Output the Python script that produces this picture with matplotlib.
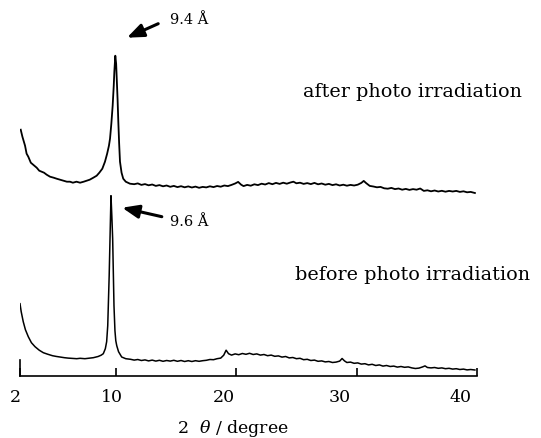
import numpy as np
import matplotlib
matplotlib.use('Agg')
import matplotlib.pyplot as plt
import matplotlib.transforms as mtransforms

plt.rcParams['font.family'] = 'DejaVu Serif'
plt.rcParams['mathtext.fontset'] = 'dejavuserif'

# XRD traces (2theta in degrees, intensity in arbitrary units, after-trace stacked above)
before_tt = [2.0, 2.1, 2.27, 2.45, 2.69, 2.95, 3.25, 3.6, 3.94, 4.3, 4.7, 5.0, 5.33, 5.7, 6.0, 6.4, 6.72,
             7.0, 7.4, 7.8, 8.1, 8.5, 8.75, 8.93, 9.1, 9.21, 9.3, 9.35, 9.42, 9.49, 9.53, 9.57, 9.64, 9.71,
             9.77, 9.82, 9.9, 9.97, 10.05, 10.2, 10.46, 10.8,
             11.2, 11.5, 11.8, 12.1, 12.4, 12.7, 13.0, 13.3, 13.6, 13.9, 14.2, 14.5, 14.8, 15.1, 15.4, 15.7,
             16.0, 16.3, 16.6, 16.9, 17.2, 17.5, 17.8, 18.1, 18.4, 18.7, 18.95, 19.15, 19.35, 19.6, 19.9,
             20.2, 20.5, 20.8, 21.1, 21.4, 21.7, 22.0, 22.3, 22.6, 22.9, 23.2, 23.5, 23.8, 24.1, 24.4, 24.7,
             25.0, 25.3, 25.6, 25.9, 26.2, 26.5, 26.8, 27.1, 27.4, 27.7, 28.0, 28.3, 28.6, 28.8, 29.0, 29.2,
             29.5, 29.8, 30.1, 30.4, 30.7, 31.0, 31.3, 31.6, 31.9, 32.2, 32.5, 32.8, 33.1, 33.4, 33.7, 34.0,
             34.3, 34.6, 34.9, 35.2, 35.5, 35.7, 35.9, 36.2, 36.5, 36.8, 37.1, 37.4, 37.7, 38.0, 38.3, 38.6,
             38.9, 39.2, 39.5, 39.85]
before_I = [72, 64, 54, 46, 39, 33, 29, 25.5, 23, 21.5, 20, 19.3, 18.7, 18.0, 17.6, 17.3, 17.0,
            17.4, 17.0, 17.6, 18, 19.2, 20.5, 22, 27, 34, 50, 70, 100, 137, 160, 180, 160, 137,
            100, 70, 45, 35, 30, 24, 18.7, 17,
            16.4, 15.6, 16.2, 15.2, 15.8, 14.8, 15.6, 14.6, 15.4, 14.4, 15.2, 14.6, 15.4, 14.4, 15.2, 14.2,
            15.0, 14.2, 15.0, 14.4, 15.0, 15.4, 16.2, 16.0, 17.0, 17.6, 20.5, 25.5, 22, 20.6, 21.8,
            21.0, 22.2, 21.4, 22.4, 21.2, 21.8, 20.6, 21.2, 20.0, 20.6, 19.4, 19.8, 18.6, 19.2, 17.8, 18.2,
            17.0, 17.4, 16.0, 16.4, 15.2, 15.6, 14.4, 14.8, 13.8, 14.2, 13.2, 13.6, 14.6, 17.2, 14.8, 13.2,
            13.6, 12.4, 12.8, 11.6, 12.0, 10.8, 11.4, 10.2, 10.8, 9.6, 10.2, 9.2, 9.6, 8.6, 9.2, 8.4,
            8.8, 7.8, 7.2, 7.6, 8.8, 9.8, 8.2, 7.8, 8.2, 7.4, 7.8, 7.0, 7.4, 6.6, 7.0, 6.2,
            6.6, 5.8, 6.2, 5.7]

after_tt = [2.06, 2.2, 2.42, 2.55, 2.69, 2.9, 3.1, 3.39, 3.6, 3.8, 4.0, 4.22, 4.5, 4.8, 5.05, 5.33, 5.6,
            5.9, 6.16, 6.4, 6.7, 7.0, 7.3, 7.55, 7.8, 8.1, 8.38, 8.6, 8.85, 9.07, 9.25, 9.4, 9.49, 9.6,
            9.71, 9.8, 9.85, 9.93, 10.0, 10.05, 10.12, 10.18, 10.25, 10.32, 10.45, 10.59, 10.8, 11.15,
            11.5, 11.8, 12.1, 12.4, 12.7, 13.0, 13.3, 13.6, 13.9, 14.2, 14.5, 14.8, 15.1, 15.4, 15.7, 16.0,
            16.3, 16.6, 16.9, 17.2, 17.5, 17.8, 18.1, 18.4, 18.7, 19.0, 19.3, 19.6, 19.9, 20.15, 20.4,
            20.6, 20.9, 21.2, 21.5, 21.8, 22.1, 22.4, 22.7, 23.0, 23.3, 23.6, 23.9, 24.2, 24.5, 24.75,
            25.0, 25.3, 25.6, 25.9, 26.2, 26.5, 26.8, 27.1, 27.4, 27.7, 28.0, 28.3, 28.6, 28.9, 29.2,
            29.5, 29.8, 30.1, 30.4, 30.6, 30.8, 31.1, 31.4, 31.7, 32.0, 32.3, 32.6, 32.9, 33.2, 33.5,
            33.8, 34.1, 34.4, 34.7, 35.0, 35.3, 35.6, 35.9, 36.2, 36.5, 36.8, 37.1, 37.4, 37.7, 38.0,
            38.3, 38.6, 38.9, 39.2, 39.5, 39.85]
after_I = [246, 239, 230, 222, 219, 213, 211, 208, 205, 204, 203, 201, 199, 198, 197, 196, 195,
           194, 194, 193, 194, 193, 194, 195, 196, 198, 200, 203, 207, 214, 222, 230, 237, 252,
           270, 290, 304, 320, 312, 297, 276, 254, 232, 214, 203, 197, 194, 192,
           191.5, 192.3, 190.8, 191.6, 190.4, 191.2, 189.8, 190.6, 189.4, 190.2, 188.9, 189.8, 188.6,
           189.5, 188.4, 189.3, 188.2, 189.1, 187.9, 188.8, 188.3, 189.4, 188.6, 189.7, 189.0, 190.2,
           189.6, 190.8, 192.2, 193.8, 191.0, 189.6, 190.8, 190.0, 191.4, 190.6, 192.0, 191.2, 192.6,
           191.5, 192.8, 191.8, 193.0, 192.0, 193.2, 194.0, 192.4, 193.0, 191.8, 192.6, 191.6, 192.8,
           191.4, 192.2, 191.0, 191.8, 190.6, 191.4, 190.2, 191.0, 190.0, 190.8, 190.2, 191.0, 192.8,
           194.8, 192.6, 189.8, 189.2, 188.4, 188.8, 187.4, 187.0, 187.8, 186.6, 187.2, 186.0, 186.8,
           185.8, 186.6, 186.0, 187.2, 184.8, 185.4, 184.4, 185.2, 184.2, 184.9, 184.0, 184.8, 184.2,
           184.8, 183.8, 184.4, 183.4, 183.8, 182.7]

x_ticks = [2, 10, 20, 30, 40]

fig = plt.figure(figsize=(5.41, 4.39), dpi=100)
ax = fig.add_axes([20 / 541, 62.3 / 439, 456.7 / 541, 376.7 / 439])

ax.plot(before_tt, before_I, color='black', lw=1.1)
ax.plot(after_tt, after_I, color='black', lw=1.3)

ax.set_xlim(2, 40)
ax.set_ylim(0, 376.7)
ax.set_xticks(x_ticks)
ax.set_xticklabels([str(t) for t in x_ticks], fontsize=12.5)
ax.tick_params(axis='x', direction='in', length=6, width=1.2, pad=9)
# the printed labels sit a little left of their ticks
shifts = [-5, -4, -12, -17, -16]
for lab, dx in zip(ax.get_xticklabels(), shifts):
    lab.set_transform(lab.get_transform() + mtransforms.ScaledTranslation(dx / 100, 0, fig.dpi_scale_trans))
ax.set_yticks([])
ax.spines['top'].set_visible(False)
ax.spines['right'].set_visible(False)
ax.spines['left'].set_bounds(0, 16)
ax.spines['left'].set_linewidth(1.2)
ax.spines['bottom'].set_linewidth(1.2)
ax.patch.set_visible(False)
ax.set_xlabel(r'2  $\theta$ / degree', fontsize=12.5)
ax.xaxis.set_label_coords((233 - 20) / 456.7, -41 / 376.7)

arrow = dict(arrowstyle='-|>,head_length=1.0,head_width=0.4', color='black', lw=2.2,
             shrinkA=0, shrinkB=0)
ax.annotate('', xy=(10.9, 338), xytext=(13.5, 352), arrowprops=arrow)
ax.text(14.5, 357, '9.4 Å', fontsize=10.5, va='center', ha='left')
ax.annotate('', xy=(10.5, 168), xytext=(13.8, 159), arrowprops=arrow)
ax.text(14.5, 155, '9.6 Å', fontsize=10.5, va='center', ha='left')

ax.text(43.76, 285, 'after photo irradiation', fontsize=13.8, ha='right', va='center', clip_on=False)
ax.text(44.43, 102, 'before photo irradiation', fontsize=13.8, ha='right', va='center', clip_on=False)

fig.savefig('out.png', dpi=100)
